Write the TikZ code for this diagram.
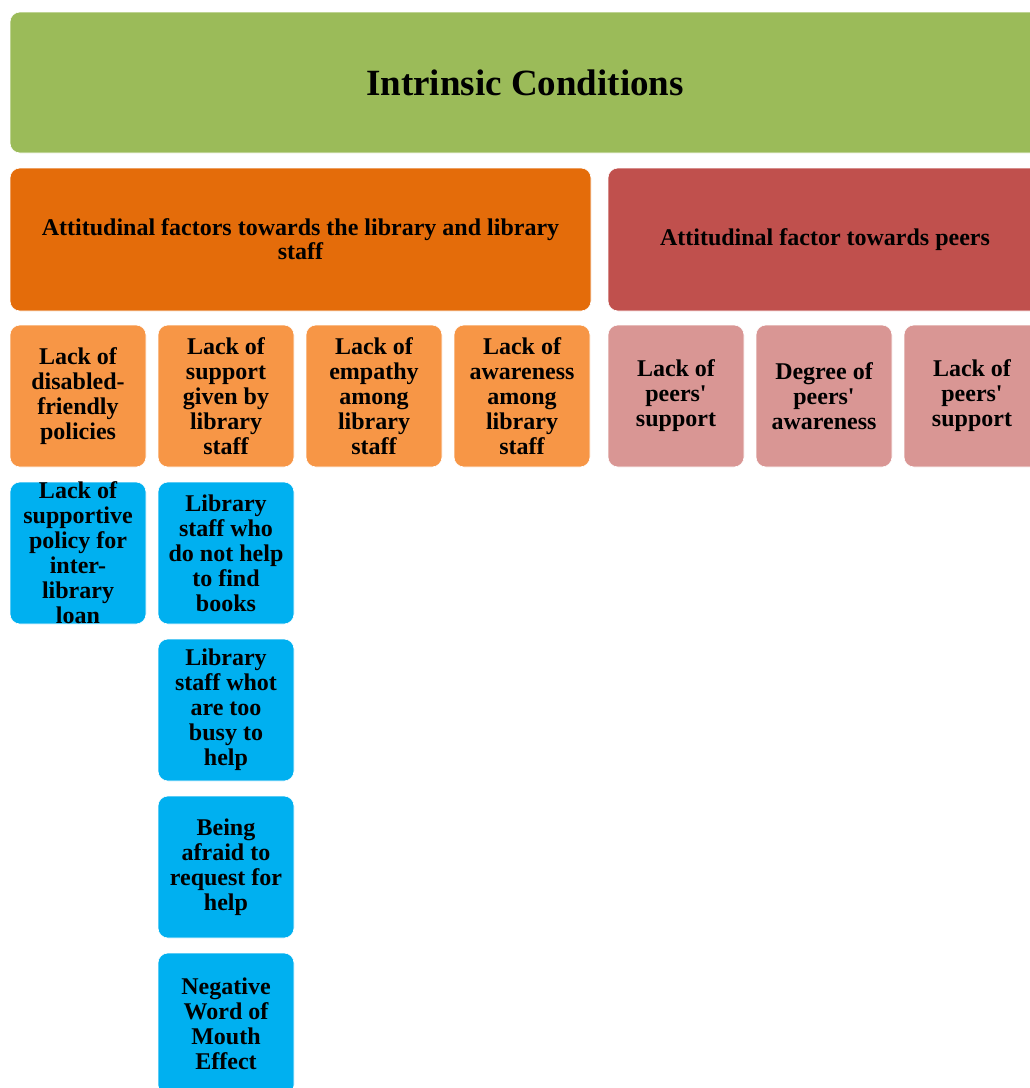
\documentclass[tikz,border=0pt]{standalone}
\usepackage{fontspec}
\setmainfont{Liberation Serif}
\usepackage{xcolor}
\usepackage{tikz}
\definecolor{condgreen}{HTML}{9BBB59}
\definecolor{libraryorange}{HTML}{E46C0A}
\definecolor{peersred}{HTML}{C0504D}
\definecolor{factororange}{HTML}{F79646}
\definecolor{factorpink}{HTML}{D99694}
\definecolor{barrierblue}{HTML}{00B0F0}
\tikzstyle{box}=[rectangle,rounded corners=10pt,draw=white,line width=0.6pt,align=center,inner sep=0pt,font=\bfseries]
\tikzstyle{title}=[box,fill=condgreen,minimum width=1030pt,minimum height=141pt,font=\bfseries\fontsize{37}{40}\selectfont]
\tikzstyle{group}=[box,minimum height=143pt,font=\bfseries\fontsize{24}{24}\selectfont]
\tikzstyle{factor}=[box,fill=factororange,minimum width=136pt,minimum height=142pt,inner ysep=-5pt,font=\bfseries\fontsize{24}{25}\selectfont]
\tikzstyle{peer}=[factor,fill=factorpink]
\tikzstyle{barrier}=[factor,fill=barrierblue]

\begin{document}
\begin{tikzpicture}[x=1pt,y=-1pt]
        \useasboundingbox (0,0) rectangle (1030,1088);
        \clip (0,0) rectangle (1030,1088);

        \node at (525,82.5) [title] (intrinsic) {Intrinsic Conditions};

        \node at (300.5,239.5) [group,fill=libraryorange,minimum width=581pt] (library)
              {Attitudinal factors towards the library and library\\staff};
        \node at (825,239.5) [group,fill=peersred,minimum width=434pt] (peers)
              {Attitudinal factor towards peers};

        \node at (78,396)  [factor] (policies) {Lack of\\disabled-\\friendly\\policies};
        \node at (226,396) [factor] (support)  {Lack of\\support\\given by\\library\\staff};
        \node at (374,396) [factor] (empathy)  {Lack of\\empathy\\among\\library\\staff};
        \node at (522,396) [factor] (awareness) {Lack of\\awareness\\among\\library\\staff};

        \node at (676,396) [peer] (peersupport)  {Lack of\\peers\textquotesingle\\support};
        \node at (824,396) [peer] (peeraware)    {Degree of\\peers\textquotesingle\\awareness};
        \node at (972,396) [peer] (peersupportb) {Lack of\\peers\textquotesingle\\support};

        \node at (78,553)   [barrier] (loan)   {Lack of\\supportive\\policy for\\inter-\\library\\loan};
        \node at (226,553)  [barrier] (books)  {Library\\staff who\\do not help\\to find\\books};
        \node at (226,710)  [barrier] (busy)   {Library\\staff whot\\are too\\busy to\\help};
        \node at (226,867)  [barrier] (afraid) {Being\\afraid to\\request for\\help};
        \node at (226,1024) [barrier] (mouth)  {Negative\\Word of\\Mouth\\Effect};
      \end{tikzpicture}
\end{document}
